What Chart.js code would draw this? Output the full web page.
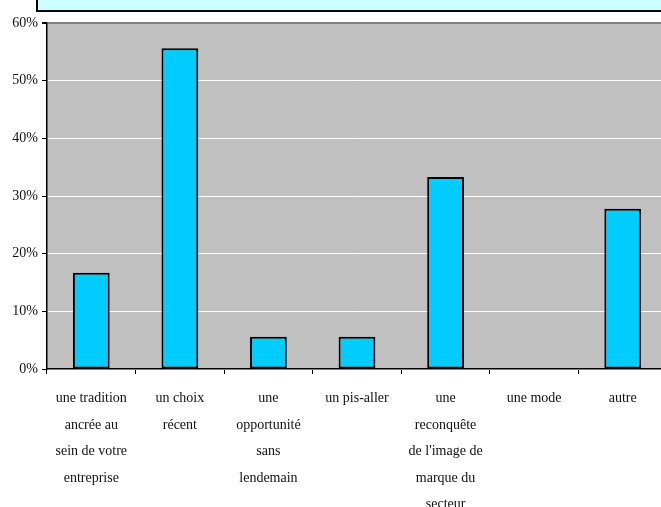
<!DOCTYPE html>
<html>
<head>
<meta charset="utf-8">
<script src="https://cdn.jsdelivr.net/npm/chart.js@4/dist/chart.umd.min.js"></script>
<style>
html,body{margin:0;padding:0;background:#fff;overflow:hidden;}
#wrap{position:relative;width:661px;height:507px;overflow:hidden;}
#titlebox{position:absolute;left:36px;top:-4px;width:640px;height:12px;background:#CCFFFF;border:2px solid #000;}
canvas{position:absolute;left:0;top:0;}
</style>
</head>
<body>
<div id="wrap">
<canvas id="c" width="667" height="507"></canvas>
<div id="titlebox"></div>
</div>
<script>
const categories = [
  ["une tradition","ancrée au","sein de votre","entreprise"],
  ["un choix","récent"],
  ["une","opportunité","sans","lendemain"],
  ["un pis-aller"],
  ["une","reconquête","de l'image de","marque du","secteur"],
  ["une mode"],
  ["autre"]
];
const values = [0.167, 0.556, 0.056, 0.056, 0.333, 0, 0.278];
const yTicks = [0, 0.1, 0.2, 0.3, 0.4, 0.5, 0.6];

const bgPlugin = {
  id: 'plotBg',
  beforeDraw(chart) {
    const a = chart.chartArea, ctx = chart.ctx;
    ctx.save();
    ctx.fillStyle = '#C0C0C0';
    ctx.fillRect(a.left, a.top, a.right - a.left, a.bottom - a.top);
    ctx.restore();
  }
};

new Chart(document.getElementById('c'), {
  type: 'bar',
  data: {
    labels: categories,
    datasets: [{
      data: values,
      backgroundColor: '#00CCFF',
      borderColor: '#000000',
      borderWidth: 2,
      borderSkipped: false,
      categoryPercentage: 1.0,
      barPercentage: 0.415
    }]
  },
  options: {
    responsive: false,
    animation: false,
    devicePixelRatio: 1,
    layout: { padding: { top: 23, right: 0, left: 0, bottom: 0 } },
    plugins: { legend: { display: false }, tooltip: { enabled: false }, title: { display: false } },
    scales: {
      x: {
        grid: { offset: true, drawOnChartArea: false, drawTicks: true, tickLength: 5, tickColor: '#000', tickWidth: 1 },
        border: { color: '#000', width: 1.5 },
        ticks: {
          color: '#111',
          font: { family: 'Liberation Serif', size: 14, lineHeight: 1.9 },
          padding: 11,
          maxRotation: 0,
          autoSkip: false
        },
        afterFit(scale) { scale.height = 138; }
      },
      y: {
        min: 0, max: 0.6,
        afterBuildTicks(scale) { scale.ticks = yTicks.map(v => ({ value: v })); },
        grid: {
          color: ctx => (ctx.tick && ctx.tick.value >= 0.6) ? '#808080' : '#FFFFFF',
          lineWidth: ctx => (ctx.tick && ctx.tick.value >= 0.6) ? 2 : 1,
          tickColor: '#000', tickLength: 5, drawTicks: true
        },
        border: { color: '#000', width: 1.5 },
        ticks: {
          color: '#111',
          font: { family: 'Liberation Serif', size: 14 },
          padding: 4,
          callback: v => Math.round(v * 100) + '%'
        },
        afterFit(scale) { scale.width = 47; }
      }
    }
  },
  plugins: [bgPlugin]
});
</script>
</body>
</html>
